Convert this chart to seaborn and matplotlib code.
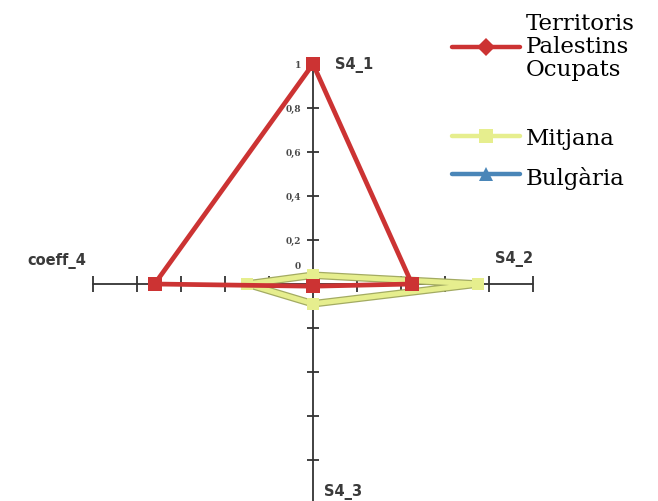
import matplotlib
matplotlib.use("Agg")
import matplotlib.pyplot as plt
import matplotlib.patheffects as pe
import numpy as np
import pandas as pd
import seaborn as sns

# spokes of the radar chart (clockwise from the top)
axes_names = ["S4_1", "S4_2", "S4_3", "coeff_4"]
series_names = ["Territoris\nPalestins\nOcupats", "Mitjana", "Bulgària"]
territoris = [1.0, 0.45, 0.01, 0.72]
mitjana = [0.04, 0.75, 0.09, 0.30]
bulgaria = [0.0, 0.0, 0.0, 0.0]
ticks = [0.2, 0.4, 0.6, 0.8, 1.0]
tick_labels = ["0,2", "0,4", "0,6", "0,8", "1"]

colors = ["#cc3333", "#e6ee8e", "#4a86b8"]
markers = ["s", "s", "^"]
leg_markers = ["D", "s", "^"]

# spoke directions: up, right, down, left
dirs = np.array([[0, 1], [1, 0], [0, -1], [-1, 0]])

rows = []
for name, vals in zip(series_names, [territoris, mitjana, bulgaria]):
    for i in range(5):
        k = i % 4
        rows.append({"serie": name, "order": i,
                     "x": dirs[k, 0] * vals[k], "y": dirs[k, 1] * vals[k]})
df = pd.DataFrame(rows)

sns.set_style("white")
fig = plt.figure(figsize=(6.58, 5.02), dpi=100)
ax = fig.add_axes([0, 0, 1, 1])
ax.set_xlim(-313 / 220, 345 / 220)
ax.set_ylim(-217 / 220, 285 / 220)
ax.axis("off")

# axis cross
ax.plot([-1, 1], [0, 0], color="#333333", lw=1.3, zorder=1)
ax.plot([0, 0], [-1, 1], color="#333333", lw=1.3, zorder=1)
for t in ticks:
    ax.plot([t, -t], [0, 0], ls="none", marker="|", ms=11, mew=1.3, color="#333333", zorder=1)
    ax.plot([0, 0], [t, -t], ls="none", marker="_", ms=9, mew=1.3, color="#333333", zorder=1)
for t, lab in zip(ticks, tick_labels):
    ax.text(-0.055, t, lab, ha="right", va="center", fontsize=6.5, color="#4a4a4a",
            family="DejaVu Serif", fontweight="bold")
ax.text(-0.055, 0.085, "0", ha="right", va="center", fontsize=6.5, color="#4a4a4a",
        family="DejaVu Serif", fontweight="bold")

# series, Bulgària drawn first so it sits beneath
for name, col, mk, z in zip(series_names[::-1], colors[::-1], markers[::-1], [2, 3, 4]):
    sub = df[df["serie"] == name]
    if name == "Mitjana":
        sns.lineplot(data=sub, x="x", y="y", sort=False, estimator=None, ax=ax, color=col,
                     lw=3.6, zorder=z, legend=False,
                     path_effects=[pe.Stroke(linewidth=5.4, foreground="#a3ab62"), pe.Normal()])
        sns.scatterplot(data=sub, x="x", y="y", ax=ax, color=col, marker=mk, s=75,
                        linewidth=0, zorder=z, legend=False)
    else:
        sns.lineplot(data=sub, x="x", y="y", sort=False, estimator=None, ax=ax, color=col,
                     lw=3.4, marker=mk, markersize=10 if name != "Bulgària" else 6,
                     markeredgewidth=0, zorder=z, legend=False)

# spoke labels
lab_kw = dict(fontsize=10.5, fontweight="bold", color="#3a3a3a", family="DejaVu Sans")
ax.text(0.1, 1.0, axes_names[0], ha="left", va="center", **lab_kw)
ax.text(1.0, 0.12, axes_names[1], ha="right", va="center", **lab_kw)
ax.text(0.05, -0.94, axes_names[2], ha="left", va="center", **lab_kw)
ax.text(-1.03, 0.11, axes_names[3], ha="right", va="center", **lab_kw)

# legend drawn by hand (pixel positions of the original layout)
W, H = 658, 502
handle_y = [48, 137, 175]
text_y = [47, 139, 178]
for name, col, mk, hy, ty in zip(series_names, colors, leg_markers, handle_y, text_y):
    fig.add_artist(plt.Line2D([452 / W, 520 / W], [1 - hy / H] * 2, color=col, lw=3.2))
    fig.add_artist(plt.Line2D([486 / W], [1 - hy / H], color=col, marker=mk,
                              ms=10 if mk != "D" else 9, mew=0))
    fig.text(526 / W, 1 - ty / H, name, ha="left", va="center", fontsize=16.5,
             family="DejaVu Serif", color="black", linespacing=1.05)

fig.savefig("out.png", dpi=100)
